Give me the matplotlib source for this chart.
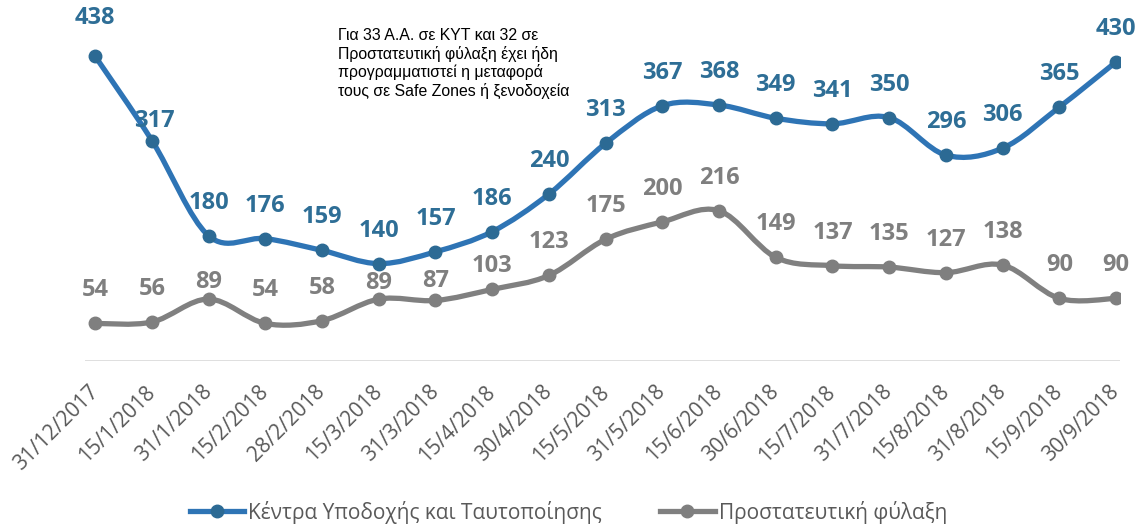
import matplotlib.pyplot as plt
from matplotlib.path import Path
from matplotlib.patches import PathPatch
from matplotlib.lines import Line2D

dates = ['31/12/2017', '15/1/2018', '31/1/2018', '15/2/2018', '28/2/2018', '15/3/2018',
         '31/3/2018', '15/4/2018', '30/4/2018', '15/5/2018', '31/5/2018', '15/6/2018',
         '30/6/2018', '15/7/2018', '31/7/2018', '15/8/2018', '31/8/2018', '15/9/2018',
         '30/9/2018']
kyt = [438, 317, 180, 176, 159, 140, 157, 186, 240, 313, 367, 368, 349, 341, 350, 296, 306, 365, 430]
fylaxi = [54, 56, 89, 54, 58, 89, 87, 103, 123, 175, 200, 216, 149, 137, 135, 127, 138, 90, 90]

name_kyt = 'Κέντρα Υποδοχής και Ταυτοποίησης'
name_fyl = 'Προστατευτική φύλαξη'
note = ('Για 33 Α.Α. σε ΚΥΤ και 32 σε\nΠροστατευτική φύλαξη έχει ήδη\n'
        'προγραμματιστεί η μεταφορά\nτους σε Safe Zones ή ξενοδοχεία')

BLUE = '#2E74B5'
BLUE_DK = '#2C6A94'
GREY = '#808080'

plt.rcParams['font.family'] = ['Open Sans', 'DejaVu Sans']

fig = plt.figure(figsize=(11.37, 5.24), dpi=100)
ax = fig.add_axes([85 / 1137, 1 - 361 / 524, (1120 - 85) / 1137, 361 / 524])
ax.set_xlim(-0.18, 18.07)
ax.set_ylim(0, 519)


def smooth_path(xs, ys):
    # excel-like smoothed line (catmull-rom as cubic beziers)
    pts = list(zip(xs, ys))
    verts = [pts[0]]
    codes = [Path.MOVETO]
    n = len(pts)
    for i in range(n - 1):
        p0 = pts[i - 1] if i > 0 else pts[i]
        p1 = pts[i]
        p2 = pts[i + 1]
        p3 = pts[i + 2] if i + 2 < n else pts[i + 1]
        c1 = (p1[0] + (p2[0] - p0[0]) / 6, p1[1] + (p2[1] - p0[1]) / 6)
        c2 = (p2[0] - (p3[0] - p1[0]) / 6, p2[1] - (p3[1] - p1[1]) / 6)
        verts += [c1, c2, p2]
        codes += [Path.CURVE4] * 3
    return Path(verts, codes)


x = list(range(len(dates)))
# label distance above the point in px, default 33
series = [(kyt, BLUE, BLUE_DK, '#2E6E96', {0: 38, 1: 20}),
          (fylaxi, GREY, '#7F7F7F', '#7F7F7F', {2: 17, 5: 16, 6: 19, 7: 23})]

for vals, lc, mc, tc, nudges in series:
    ax.add_patch(PathPatch(smooth_path(x, vals), fill=False, edgecolor=lc, lw=3.8,
                           capstyle='round', joinstyle='round', zorder=2))
    ax.plot(x, vals, ls='none', marker='o', ms=9, color=mc, zorder=3)
    for i, v in enumerate(vals):
        off = nudges.get(i, 33)
        dx = 2 if off == 20 else 0
        ax.annotate(str(v), (i, v), xytext=(dx * 0.72, off * 0.72), textcoords='offset points',
                    ha='center', va='center', fontsize=17, fontweight='bold', color=tc)

ax.axhline(0, color='#D9D9D9', lw=1.2, zorder=1)
for s in ax.spines.values():
    s.set_visible(False)
ax.set_yticks([])
ax.set_xticks(x)
ax.set_xticklabels(dates, rotation=45, ha='right', va='center', rotation_mode='anchor',
                   fontsize=15, color='#595959')
ax.tick_params(axis='x', length=0, pad=20)

fig.text(338 / 1137, 1 - 28 / 524, note, ha='left', va='top', fontsize=11.4,
         family='Liberation Sans', linespacing=1.2, color='black')

handles = [Line2D([], [], color=BLUE, lw=3.8, marker='o', ms=9, mfc=BLUE_DK, mec=BLUE_DK),
           Line2D([], [], color=GREY, lw=3.8, marker='o', ms=9, mfc='#7F7F7F', mec='#7F7F7F')]
fig.legend(handles, [name_kyt, name_fyl], loc='lower center', bbox_to_anchor=(0.5, -0.035),
           ncol=2, frameon=False, fontsize=15, handlelength=2.6, handletextpad=0.2,
           columnspacing=2.8, labelcolor='#595959')

fig.savefig('out.png', dpi=100)
